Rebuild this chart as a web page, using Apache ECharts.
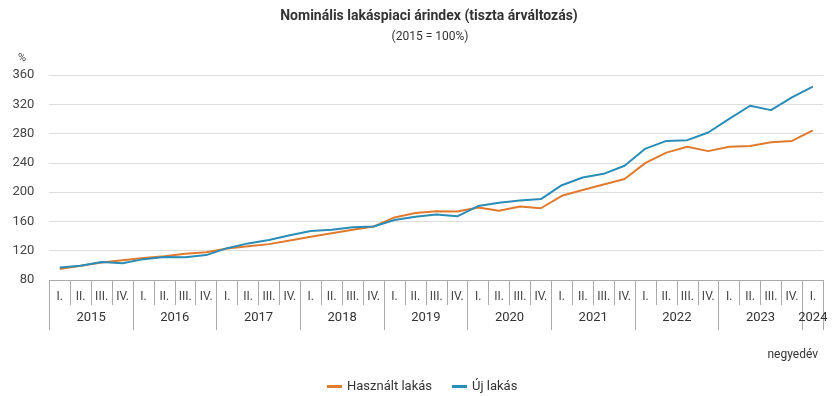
<!DOCTYPE html>
<html>
<head>
<meta charset="utf-8">
<script src="https://cdn.jsdelivr.net/npm/echarts@6/dist/echarts.min.js"></script>
<style>html,body{margin:0;padding:0;background:#fff;}#c{width:835px;height:396px;}</style>
</head>
<body>
<div id="c"></div>
<script>
var years = ['2015','2016','2017','2018','2019','2020','2021','2022','2023','2024'];
var quarterNames = ['I.','II.','III.','IV.'];
var categories = [];
years.forEach(function (y, yi) {
  var n = (y === '2024') ? 1 : 4;
  for (var q = 0; q < n; q++) categories.push(y + ' ' + quarterNames[q]);
});
var usedFlats = [95, 99.5, 104, 107, 110, 112.5, 116, 118, 123, 126, 129, 134, 139, 144, 148.5, 153,
  165.5, 171.5, 174, 173.5, 179, 174.5, 180.5, 178, 195, 203, 210.5, 218, 240, 254, 262, 256,
  262, 263, 268, 270, 284.5];
var newFlats = [97, 99.5, 104.5, 103, 108.5, 111.5, 111, 114, 123.5, 130, 134.5, 141, 147, 148.5, 152, 153,
  162, 166.5, 169.5, 167, 181, 185.5, 188.5, 190.5, 209.5, 220, 225, 236, 259.5, 270, 271, 281.5,
  300, 318, 312, 329.5, 344];
var yTicks = [80, 120, 160, 200, 240, 280, 320, 360];

// year boundaries and label centres in category units
var yearBounds = [];
var yearCentres = [];
(function () {
  var start = 0;
  years.forEach(function (y) {
    var n = (y === '2024') ? 1 : 4;
    yearBounds.push(start);
    yearCentres.push(start + n / 2);
    start += n;
  });
  yearBounds.push(start);
})();

var chart = echarts.init(document.getElementById('c'), null, {renderer: 'canvas'});
var font = 'Roboto, "Noto Sans", sans-serif';
chart.setOption({
  animation: false,
  textStyle: {fontFamily: font},
  title: [
    {text: 'Nominális lakáspiaci árindex (tiszta árváltozás)', left: 424, top: 4, textAlign: 'center',
      textStyle: {fontSize: 14, fontWeight: 'bold', color: '#333', fontFamily: font}},
    {text: '(2015 = 100%)', left: 425, top: 26, textAlign: 'center',
      textStyle: {fontSize: 12, fontWeight: 'normal', color: '#333', fontFamily: font}},
    {text: '%', left: 13, top: 48, textStyle: {fontSize: 11, fontWeight: 'normal', color: '#444', fontFamily: font}},
    {text: 'negyedév', right: 12, top: 344, textStyle: {fontSize: 12, fontWeight: 'normal', color: '#333', fontFamily: font}}
  ],
  legend: {
    left: 322, top: 375, itemWidth: 15, itemHeight: 3, itemGap: 20, icon: 'rect',
    textStyle: {fontSize: 13, color: '#333', fontFamily: font},
    data: ['Használt lakás', 'Új lakás']
  },
  grid: {left: 49.3, right: 11.7, top: 75, bottom: 116, containLabel: false},
  xAxis: [
    {
      type: 'category', data: categories, boundaryGap: true, position: 'bottom',
      axisLine: {show: true, lineStyle: {color: '#aaa', width: 1}},
      axisTick: {show: true, interval: 0, length: 25, lineStyle: {color: '#aaa'}},
      axisLabel: {interval: 0, margin: 11, fontSize: 12, color: '#444',
        formatter: function (v) { return v.split(' ')[1]; }},
      splitLine: {show: false}
    },
    {
      type: 'value', min: 0, max: categories.length, position: 'bottom',
      axisLine: {show: false},
      axisTick: {show: true, length: 50, customValues: yearBounds, lineStyle: {color: '#aaa'}},
      axisLabel: {show: true, margin: 31, fontSize: 13, color: '#333', customValues: yearCentres,
        formatter: function (v) {
          var idx = yearCentres.indexOf(v);
          return idx >= 0 ? years[idx] : '';
        }},
      splitLine: {show: false}
    }
  ],
  yAxis: {
    type: 'value', min: 80, max: 360, interval: 40,
    axisLine: {show: false}, axisTick: {show: false},
    axisLabel: {margin: 15, fontSize: 13, color: '#444'},
    splitLine: {lineStyle: {color: '#ddd', width: 1}}
  },
  series: [
    {name: 'Használt lakás', type: 'line', data: usedFlats, xAxisIndex: 0, showSymbol: false, symbol: 'none',
      lineStyle: {color: '#e07a2e', width: 2}, itemStyle: {color: '#e07a2e'}},
    {name: 'Új lakás', type: 'line', data: newFlats, xAxisIndex: 0, showSymbol: false, symbol: 'none',
      lineStyle: {color: '#2a8db7', width: 2}, itemStyle: {color: '#2a8db7'}}
  ]
});
</script>
</body>
</html>
